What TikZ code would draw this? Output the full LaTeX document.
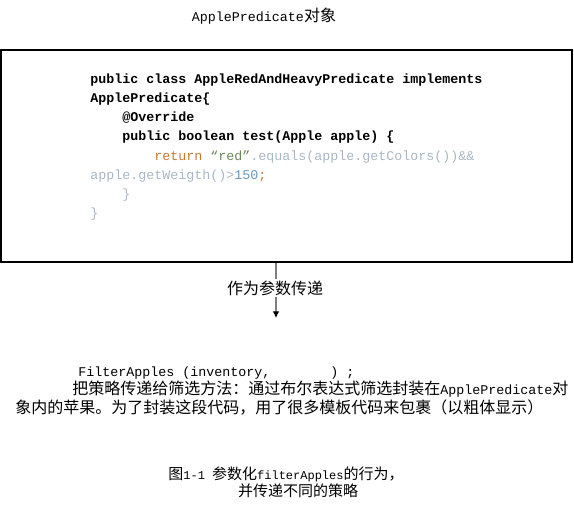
\documentclass[tikz,border=0pt]{standalone}
\usepackage{fontspec}
\setmainfont{Liberation Mono}
\newfontfamily\cjk{Noto Sans CJK SC}
\usetikzlibrary{arrows.meta}
\definecolor{kwcol}{HTML}{CC7832}
\definecolor{strcol}{HTML}{6A8759}
\definecolor{plaincol}{HTML}{A9B7C6}
\definecolor{numcol}{HTML}{6897BB}
\definecolor{linecol}{HTML}{7F7F7F}
\begin{document}
\begin{tikzpicture}[x=0.75pt,y=-0.75pt,
  txt/.style={inner sep=0pt, anchor=base west, font=\fontsize{10}{12}\selectfont},
  ctxt/.style={inner sep=0pt, anchor=base, font=\fontsize{10}{12}\selectfont},
  codeline/.style={inner sep=0pt, anchor=base west, font=\fontsize{10}{12}\selectfont},
  boldline/.style={codeline, font=\fontsize{10}{12}\selectfont\bfseries},
  boxstyle/.style={draw=black, line width=0.8pt, inner sep=0pt, minimum width=428.25pt, minimum height=159pt},
  conn/.style={draw=linecol, line width=0.9pt, -{Latex[length=5pt,width=5pt,color=black]}},
  lblstyle/.style={fill=white, inner sep=1pt, font=\cjk\fontsize{12}{14}\selectfont}]
\useasboundingbox (0,0) rectangle (574,507);

% title
\node[ctxt] (title) at (264,21) {ApplePredicate{\cjk\fontsize{12}{14}\selectfont 对象}};

% box
\node[boxstyle] (box) at (286.5,156) {};

% code
\node[boldline] (c1) at (90,83.5) {public class AppleRedAndHeavyPredicate implements};
\node[boldline] (c2) at (90,102.5) {ApplePredicate\{};
\node[boldline] (c3) at (122,121.5) {@Override};
\node[boldline] (c4) at (122,140.5) {public boolean test(Apple apple) \{};
\node[codeline] (c5) at (154,160.5) {\textcolor{kwcol}{return }\textcolor{strcol}{“red”}\textcolor{plaincol}{.equals(apple.getColors())\&\&}};
\node[codeline] (c6) at (90,179.5) {\textcolor{plaincol}{apple.getWeigth()>}\textcolor{numcol}{150}\textcolor{kwcol}{;}};
\node[codeline] (c7) at (122,198.5) {\textcolor{plaincol}{\}}};
\node[codeline] (c8) at (90,217) {\textcolor{plaincol}{\}}};

% connector
\coordinate (tip) at (276,318);
\draw[conn] (box.south -| tip) -- (tip);
\node[lblstyle] (lbl) at (275,288) {作为参数传递};

% bottom text
\node[txt] (p1) at (78,376) {FilterApples (inventory,\hspace{45pt}) ;};
\node[txt] (p2) at (72,394) {{\cjk\fontsize{12}{14}\selectfont 把策略传递给筛选方法：通过布尔表达式筛选封装在}ApplePredicate{\cjk\fontsize{12}{14}\selectfont 对}};
\node[txt] (p3) at (15,413) {{\cjk\fontsize{12}{14}\selectfont 象内的苹果。为了封装这段代码，用了很多模板代码来包裹（以粗体显示）}};

% caption
\node[ctxt, font=\fontsize{9}{11}\selectfont] (cap1) at (286,479) {{\cjk\fontsize{11.25}{13}\selectfont 图}1-1 {\cjk\fontsize{11.25}{13}\selectfont 参数化}filterApples{\cjk\fontsize{11.25}{13}\selectfont 的行为，}};
\node[ctxt] (cap2) at (298,496) {{\cjk\fontsize{11.25}{13}\selectfont 并传递不同的策略}};
\end{tikzpicture}
\end{document}
